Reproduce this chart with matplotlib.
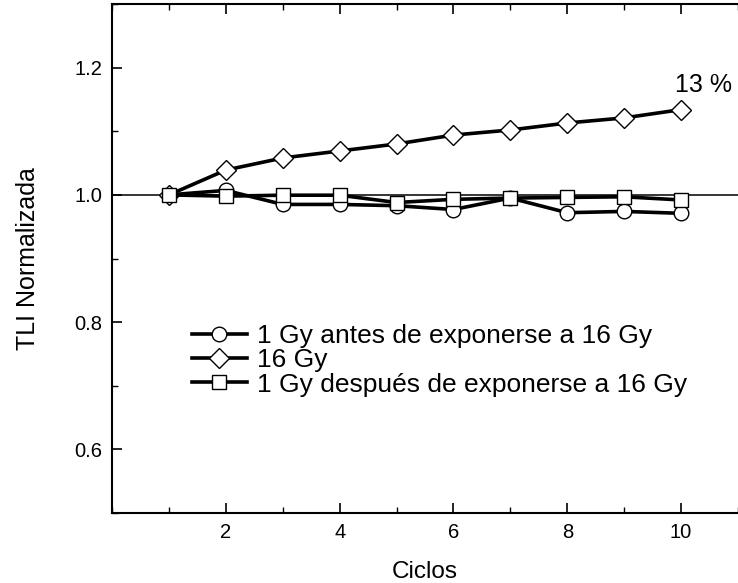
import matplotlib
matplotlib.use('Agg')
import matplotlib.pyplot as plt
from matplotlib.ticker import MultipleLocator, FixedLocator, FormatStrFormatter

plt.rcParams['font.family'] = ['Liberation Sans', 'DejaVu Sans']

# datos
ciclos = [1, 2, 3, 4, 5, 6, 7, 8, 9, 10]
antes_1gy = [1.000, 1.007, 0.985, 0.985, 0.983, 0.977, 0.995, 0.972, 0.974, 0.971]
dosis_16gy = [1.000, 1.039, 1.058, 1.069, 1.080, 1.094, 1.102, 1.113, 1.121, 1.134]
despues_1gy = [1.000, 0.998, 0.9995, 0.9995, 0.988, 0.993, 0.995, 0.996, 0.997, 0.992]
xticks = [2, 4, 6, 8, 10]

fig = plt.figure(figsize=(7.38, 5.83), dpi=100)
ax = fig.add_axes([112/738, 1 - 513/583, (738 - 112)/738, (513 - 4)/583])

ax.axhline(1.0, color='black', lw=1.1, zorder=1)

estilo = dict(color='black', lw=2.6, markerfacecolor='white', markeredgecolor='black',
              markeredgewidth=1.0)
ax.plot(ciclos, antes_1gy, marker='o', ms=10.5, label='1 Gy antes de exponerse a 16 Gy', zorder=3, **estilo)
ax.plot(ciclos, dosis_16gy, marker='D', ms=10, label='16 Gy', zorder=3, **estilo)
ax.plot(ciclos, despues_1gy, marker='s', ms=10, label='1 Gy después de exponerse a 16 Gy', zorder=4, **estilo)

ax.text(10.39, 1.173, '13 %', fontsize=18, ha='center', va='center')

ax.set_xlim(0, 11)
ax.set_ylim(0.5, 1.3)
ax.xaxis.set_major_locator(FixedLocator(xticks))
ax.xaxis.set_minor_locator(MultipleLocator(1))
ax.yaxis.set_major_locator(MultipleLocator(0.2))
ax.yaxis.set_minor_locator(MultipleLocator(0.1))
ax.yaxis.set_major_formatter(FormatStrFormatter('%.1f'))
ax.tick_params(which='major', direction='in', length=7.5, width=1.2, labelsize=14.5, pad=7)
ax.tick_params(which='minor', direction='in', length=4.5, width=1.0)
ax.tick_params(axis='x', which='both', top=True)
ax.spines['right'].set_visible(False)
for s in ['left', 'bottom', 'top']:
    ax.spines[s].set_linewidth(1.5)

ax.set_xlabel('Ciclos', fontsize=17.5, labelpad=14)
ax.set_ylabel('TLI Normalizada', fontsize=18, labelpad=25)

ax.legend(loc='upper left', bbox_to_anchor=(0.127, 0.371), frameon=False, fontsize=19,
          handlelength=2.1, handletextpad=0.38, labelspacing=0.01, borderpad=0,
          borderaxespad=0)

fig.savefig('out.png', dpi=100)
